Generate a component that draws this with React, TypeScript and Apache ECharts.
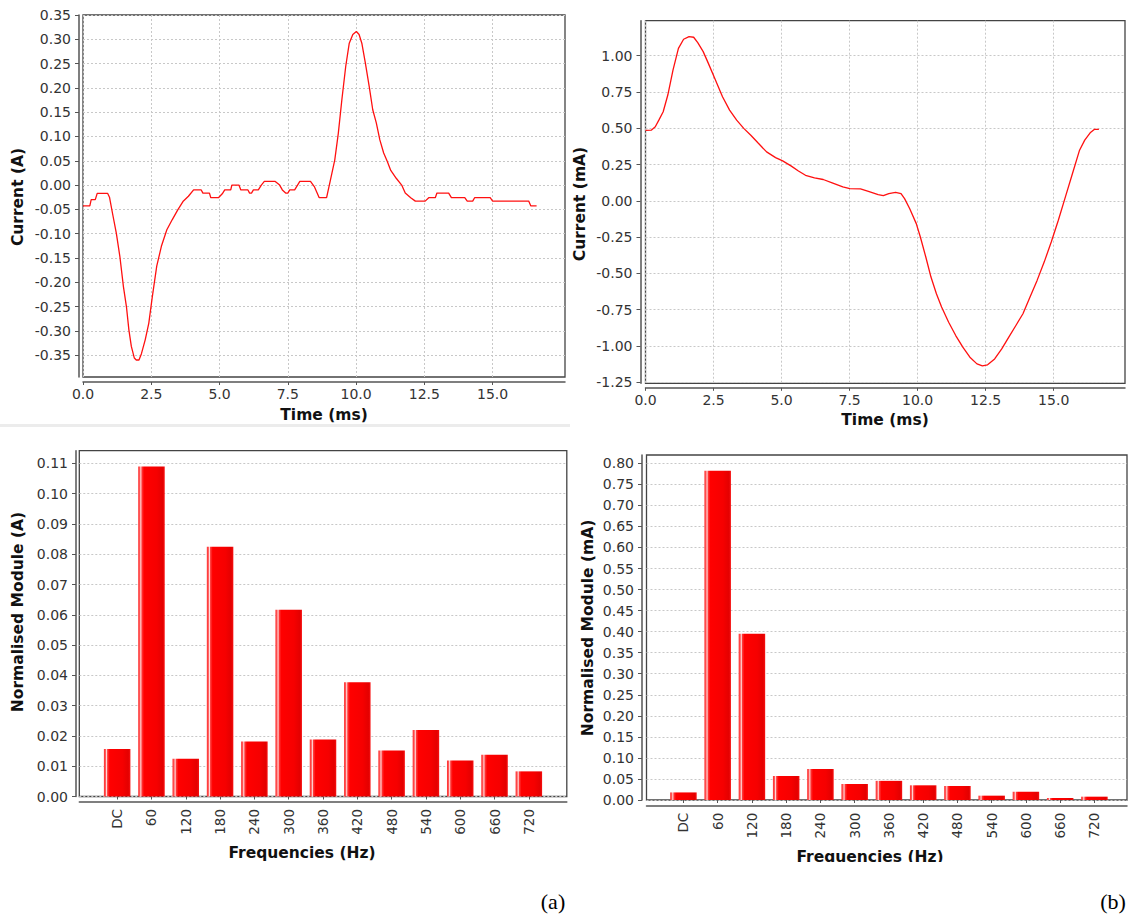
import React, { useEffect, useRef } from "react";
import * as echarts from "echarts";

// ---- Data ----
const timeA = [0, 0.25, 0.3, 0.45, 0.52, 0.9, 0.97, 1.08, 1.22, 1.35, 1.48, 1.59, 1.68, 1.77, 1.88, 1.95, 2.05, 2.14, 2.28, 2.41, 2.54, 2.7, 2.87, 3.07, 3.27, 3.47, 3.66, 3.86, 4.05, 4.33, 4.39, 4.63, 4.68, 4.96, 5.1, 5.19, 5.41, 5.45, 5.71, 5.78, 6.04, 6.1, 6.17, 6.24, 6.42, 6.53, 6.64, 7.04, 7.2, 7.3, 7.42, 7.5, 7.57, 7.75, 7.94, 8.33, 8.47, 8.65, 8.92, 9.05, 9.22, 9.35, 9.48, 9.62, 9.75, 9.88, 10.01, 10.11, 10.21, 10.34, 10.48, 10.61, 10.74, 10.87, 11.01, 11.14, 11.27, 11.47, 11.67, 11.8, 12.0, 12.17, 12.53, 12.66, 12.9, 12.96, 13.39, 13.49, 13.98, 14.07, 14.27, 14.34, 14.91, 15.0, 16.32, 16.4, 16.61];
const currentA = [-0.043, -0.043, -0.03, -0.03, -0.017, -0.017, -0.025, -0.058, -0.099, -0.147, -0.209, -0.25, -0.298, -0.332, -0.356, -0.36, -0.36, -0.347, -0.318, -0.284, -0.229, -0.167, -0.126, -0.092, -0.071, -0.051, -0.034, -0.023, -0.01, -0.01, -0.0165, -0.0165, -0.026, -0.026, -0.018, -0.01, -0.01, 0, 0, -0.01, -0.01, -0.0165, -0.0165, -0.01, -0.01, 0, 0.0075, 0.0075, 0, -0.01, -0.0165, -0.0165, -0.01, -0.01, 0.0075, 0.0075, -0.003, -0.026, -0.026, 0.0075, 0.052, 0.107, 0.176, 0.244, 0.292, 0.31, 0.316, 0.31, 0.292, 0.251, 0.203, 0.155, 0.128, 0.093, 0.066, 0.049, 0.03, 0.014, 0, -0.0165, -0.026, -0.033, -0.033, -0.026, -0.026, -0.0165, -0.0165, -0.026, -0.026, -0.033, -0.033, -0.026, -0.026, -0.033, -0.033, -0.043, -0.043];

const timeB = [0, 0.21, 0.36, 0.49, 0.65, 0.82, 1.01, 1.21, 1.4, 1.6, 1.77, 1.92, 2.12, 2.31, 2.57, 2.83, 3.09, 3.35, 3.61, 3.87, 4.13, 4.45, 4.78, 5.04, 5.36, 5.62, 5.88, 6.21, 6.53, 6.86, 7.25, 7.51, 7.9, 8.22, 8.55, 8.74, 8.94, 9.19, 9.39, 9.52, 9.71, 9.95, 10.1, 10.3, 10.49, 10.69, 10.88, 11.14, 11.4, 11.66, 11.92, 12.18, 12.38, 12.57, 12.83, 13.09, 13.35, 13.61, 13.87, 14.13, 14.39, 14.65, 14.91, 15.17, 15.43, 15.69, 15.95, 16.14, 16.34, 16.49, 16.66];
const currentB = [0.485, 0.487, 0.51, 0.556, 0.614, 0.729, 0.901, 1.05, 1.113, 1.131, 1.127, 1.09, 1.028, 0.947, 0.832, 0.717, 0.625, 0.556, 0.499, 0.452, 0.4, 0.337, 0.298, 0.275, 0.239, 0.206, 0.176, 0.158, 0.147, 0.124, 0.096, 0.084, 0.082, 0.064, 0.043, 0.036, 0.05, 0.059, 0.05, 0.015, -0.054, -0.157, -0.249, -0.387, -0.525, -0.64, -0.732, -0.836, -0.928, -1.008, -1.077, -1.123, -1.137, -1.13, -1.089, -1.02, -0.939, -0.859, -0.778, -0.663, -0.548, -0.422, -0.284, -0.134, 0.027, 0.188, 0.349, 0.418, 0.469, 0.492, 0.492];

const frequencies = ["DC", "60", "120", "180", "240", "300", "360", "420", "480", "540", "600", "660", "720"];
const moduleA = [0.0157, 0.109, 0.0125, 0.0825, 0.0182, 0.0617, 0.0188, 0.0377, 0.0152, 0.022, 0.0119, 0.0138, 0.0083];
const moduleB = [0.018, 0.782, 0.395, 0.057, 0.0737, 0.038, 0.0455, 0.0349, 0.0333, 0.0103, 0.0198, 0.0048, 0.0079];

const timeTicks = [0, 2.5, 5, 7.5, 10, 12.5, 15];
const currentTicksA = [-0.35, -0.3, -0.25, -0.2, -0.15, -0.1, -0.05, 0, 0.05, 0.1, 0.15, 0.2, 0.25, 0.3, 0.35];
const currentTicksB = [-1.25, -1, -0.75, -0.5, -0.25, 0, 0.25, 0.5, 0.75, 1];
const moduleTicksA = [0, 0.01, 0.02, 0.03, 0.04, 0.05, 0.06, 0.07, 0.08, 0.09, 0.1, 0.11];
const moduleTicksB = [0, 0.05, 0.1, 0.15, 0.2, 0.25, 0.3, 0.35, 0.4, 0.45, 0.5, 0.55, 0.6, 0.65, 0.7, 0.75, 0.8];

const FONT = "DejaVu Sans";
const AXIS_COLOR = "#555555";
const LABEL_COLOR = "#333333";
const GRID_LINE = { color: "#c8c8c8", width: 1, type: [2, 2] as any };

function zip(a: number[], b: number[]) {
  return a.map((x, i) => [x, b[i]]);
}

function valueAxis(opts: any) {
  const { min, max, ticks, decimals, offset, splitLine, labelMargin, tickLen } = opts;
  return {
    type: "value",
    gridIndex: opts.gridIndex,
    min,
    max,
    offset,
    axisLine: { show: true, onZero: false, lineStyle: { color: AXIS_COLOR, width: 1.5 } },
    axisTick: { show: true, length: tickLen ?? 4, customValues: ticks, lineStyle: { color: AXIS_COLOR, width: 1 } },
    axisLabel: {
      show: true,
      customValues: ticks,
      margin: labelMargin ?? 8,
      color: LABEL_COLOR,
      fontFamily: FONT,
      fontSize: 14,
      formatter: (v: number) => v.toFixed(decimals),
    },
    splitLine: { show: splitLine, lineStyle: GRID_LINE },
  };
}

const barGradient = new echarts.graphic.LinearGradient(0, 0, 1, 0, [
  { offset: 0, color: "#ff2a2a" },
  { offset: 0.06, color: "#ff5a5a" },
  { offset: 0.1, color: "#ffdede" },
  { offset: 0.14, color: "#ff3a3a" },
  { offset: 0.22, color: "#ff0000" },
  { offset: 0.7, color: "#f60000" },
  { offset: 0.92, color: "#e40000" },
  { offset: 1, color: "#f81010" },
]);

export default function App() {
  const ref = useRef<HTMLDivElement>(null);

  useEffect(() => {
    if (!ref.current) return;
    const chart = echarts.init(ref.current, undefined, { renderer: "svg" });

    const frame = { show: true, borderColor: "#444444", borderWidth: 1.3, backgroundColor: "transparent" };

    const grids = [
      { left: 83, top: 15, width: 482, height: 362, ...frame }, // 0 TL
      { left: 645.5, top: 20.7, width: 479.5, height: 362.6, ...frame }, // 1 TR
      { left: 79.3, top: 450.7, width: 487.5, height: 345.8, ...frame }, // 2 BL frame
      { left: 100, top: 450.7, width: 446, height: 345.8, show: false }, // 3 BL bars
      { left: 646.5, top: 455, width: 480.5, height: 345, ...frame }, // 4 BR frame
      { left: 666.3, top: 455, width: 445.25, height: 345, show: false }, // 5 BR bars
    ];

    const xAxes: any[] = [
      { ...valueAxis({ gridIndex: 0, min: 0, max: 17.65, ticks: timeTicks, decimals: 1, offset: 5, splitLine: true, labelMargin: 5, tickLen: 3 }) },
      { ...valueAxis({ gridIndex: 1, min: 0, max: 17.62, ticks: timeTicks, decimals: 1, offset: 4.5, splitLine: true, labelMargin: 5, tickLen: 3 }) },
      {
        type: "value", gridIndex: 2, min: 0, max: 1, offset: 5.5,
        axisLine: { show: true, onZero: false, lineStyle: { color: AXIS_COLOR, width: 1.5 } },
        axisTick: { show: false }, axisLabel: { show: false }, splitLine: { show: false },
      },
      {
        type: "category", gridIndex: 3, data: frequencies, offset: 5.5,
        axisLine: { show: false },
        axisTick: { show: true, alignWithLabel: true, length: 3, lineStyle: { color: AXIS_COLOR } },
        axisLabel: { rotate: 90, margin: 7, color: LABEL_COLOR, fontFamily: FONT, fontSize: 13.5, interval: 0 },
        splitLine: { show: false },
      },
      {
        type: "value", gridIndex: 4, min: 0, max: 1, offset: 5.7,
        axisLine: { show: true, onZero: false, lineStyle: { color: AXIS_COLOR, width: 1.5 } },
        axisTick: { show: false }, axisLabel: { show: false }, splitLine: { show: false },
      },
      {
        type: "category", gridIndex: 5, data: frequencies, offset: 5.7,
        axisLine: { show: false },
        axisTick: { show: true, alignWithLabel: true, length: 3, lineStyle: { color: AXIS_COLOR } },
        axisLabel: { rotate: 90, margin: 7, color: LABEL_COLOR, fontFamily: FONT, fontSize: 13.5, interval: 0 },
        splitLine: { show: false },
      },
    ];

    const yAxes: any[] = [
      valueAxis({ gridIndex: 0, min: -0.395, max: 0.35, ticks: currentTicksA, decimals: 2, offset: 4, splitLine: true }),
      valueAxis({ gridIndex: 1, min: -1.257, max: 1.241, ticks: currentTicksB, decimals: 2, offset: 5, splitLine: true }),
      valueAxis({ gridIndex: 2, min: 0, max: 0.1142, ticks: moduleTicksA, decimals: 2, offset: 3.3, splitLine: true }),
      { type: "value", gridIndex: 3, min: 0, max: 0.1142, show: false },
      valueAxis({ gridIndex: 4, min: 0, max: 0.8197, ticks: moduleTicksB, decimals: 2, offset: 4.5, splitLine: true }),
      { type: "value", gridIndex: 5, min: 0, max: 0.8197, show: false },
    ];

    const lineStyle = { color: "#ff1010", width: 1.3 };
    const titleStyle = { fontFamily: FONT, fontSize: 15.5, fontWeight: "bold", fill: "#111111", textAlign: "center", textVerticalAlign: "middle" };

    const text = (t: string, x: number, y: number, rot = 0, extra: any = {}) => ({
      type: "text", x, y, rotation: rot, z: 50, silent: true,
      style: { text: t, ...titleStyle, ...extra },
    });

    chart.setOption({
      animation: false,
      backgroundColor: "#ffffff",
      grid: grids,
      xAxis: xAxes,
      yAxis: yAxes,
      series: [
        { type: "line", xAxisIndex: 0, yAxisIndex: 0, data: zip(timeA, currentA), showSymbol: false, lineStyle, z: 5 },
        { type: "line", xAxisIndex: 1, yAxisIndex: 1, data: zip(timeB, currentB), showSymbol: false, lineStyle, z: 5 },
        { type: "bar", xAxisIndex: 3, yAxisIndex: 3, data: moduleA, barWidth: 26.5, itemStyle: { color: barGradient } },
        { type: "bar", xAxisIndex: 5, yAxisIndex: 5, data: moduleB, barWidth: 26.5, itemStyle: { color: barGradient } },
      ],
      graphic: [
        { type: "rect", shape: { x: 0, y: 424, width: 570, height: 3 }, style: { fill: "#ececec" }, silent: true, z: 1 },
        text("Current (A)", 18, 197, Math.PI / 2),
        text("Time (ms)", 324, 415),
        text("Current (mA)", 580, 204, Math.PI / 2),
        text("Time (ms)", 885, 420),
        text("Normalised Module (A)", 18, 612, Math.PI / 2),
        text("Frequencies (Hz)", 302, 853),
        text("Normalised Module (mA)", 588, 628, Math.PI / 2),
        text("Frequencies (Hz)", 870, 857),
        { type: "rect", shape: { x: 200, y: 861, width: 220, height: 14 }, style: { fill: "#ffffff" }, silent: true, z: 60 },
        { type: "rect", shape: { x: 760, y: 862, width: 220, height: 14 }, style: { fill: "#ffffff" }, silent: true, z: 60 },
        text("(a)", 553, 901, 0, { fontFamily: "Liberation Serif", fontSize: 22, fontWeight: "normal", fill: "#000000" }),
        text("(b)", 1113, 901, 0, { fontFamily: "Liberation Serif", fontSize: 22, fontWeight: "normal", fill: "#000000" }),
      ],
    });

    return () => chart.dispose();
  }, []);

  return (
    <div
      ref={ref}
      style={{ position: "fixed", left: 0, top: 0, width: 1128, height: 914, background: "#ffffff" }}
    />
  );
}
